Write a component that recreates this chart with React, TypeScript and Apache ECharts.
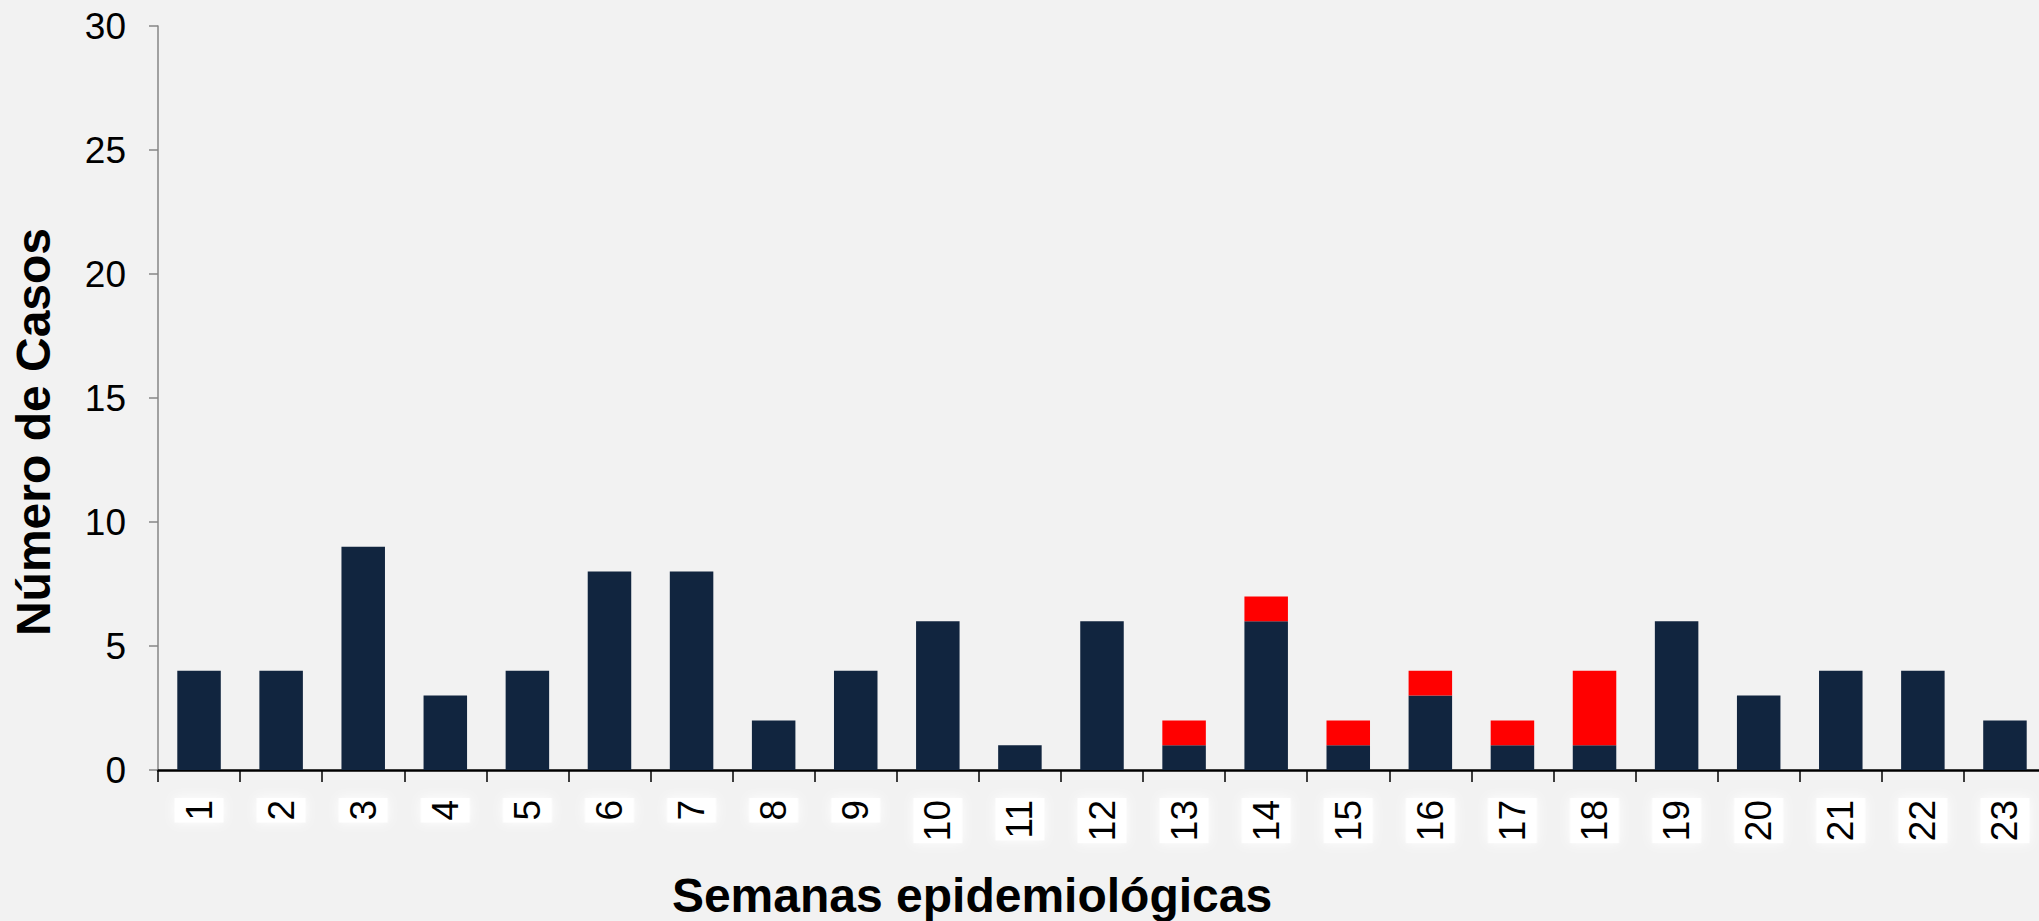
import React, { useEffect, useRef } from "react";
import * as echarts from "echarts";

const weeks = ["1","2","3","4","5","6","7","8","9","10","11","12","13","14","15","16","17","18","19","20","21","22","23"];
const navyValues = [4, 4, 9, 3, 4, 8, 8, 2, 4, 6, 1, 6, 1, 6, 1, 3, 1, 1, 6, 3, 4, 4, 2];
const redValues = [0, 0, 0, 0, 0, 0, 0, 0, 0, 0, 0, 0, 1, 1, 1, 1, 1, 3, 0, 0, 0, 0, 0];
const yTicks = { min: 0, max: 30, interval: 5 };

const FONT = "'Liberation Sans', Arial, sans-serif";

export default function App() {
  const ref = useRef<HTMLDivElement>(null);
  useEffect(() => {
    document.body.style.margin = "0";
    if (!ref.current) return;
    const chart = echarts.init(ref.current, null, { renderer: "svg" });
    chart.setOption({
      animation: false,
      backgroundColor: "#f2f2f2",
      textStyle: { fontFamily: FONT },
      grid: {
        left: 158,
        top: 26,
        bottom: 151,
        right: -7,
        containLabel: false,
        outerBoundsMode: "none",
      },
      xAxis: {
        type: "category",
        data: weeks,
        boundaryGap: true,
        name: "Semanas epidemiológicas",
        nameLocation: "middle",
        nameGap: 101,
        nameTextStyle: {
          fontFamily: FONT,
          fontSize: 48,
          fontWeight: "bold",
          color: "#000",
          padding: [0, 260, 0, 0],
        },
        axisLine: { show: true, lineStyle: { color: "#000", width: 2.5 } },
        axisTick: { show: true, length: 12, lineStyle: { color: "#000", width: 1.5 } },
        axisLabel: {
          rotate: 90,
          margin: 28,
          fontFamily: FONT,
          fontSize: 37,
          color: "#000",
          backgroundColor: "#ffffff",
          lineHeight: 40,
          padding: [5, 2, 4, 2],
          shadowColor: "rgba(255,255,255,1)",
          shadowBlur: 12,
          interval: 0,
        },
        splitLine: { show: false },
      },
      yAxis: {
        type: "value",
        min: yTicks.min,
        max: yTicks.max,
        interval: yTicks.interval,
        name: "Número de Casos",
        nameLocation: "middle",
        nameRotate: 90,
        nameGap: 101,
        nameTextStyle: {
          fontFamily: FONT,
          fontSize: 48,
          fontWeight: "bold",
          color: "#000",
          padding: [0, 68, 0, 0],
        },
        axisLine: { show: true, lineStyle: { color: "#868686", width: 1.5 } },
        axisTick: { show: true, length: 9, lineStyle: { color: "#868686", width: 1.5 } },
        axisLabel: { margin: 32, fontFamily: FONT, fontSize: 37, color: "#000" },
        splitLine: { show: false },
      },
      series: [
        {
          type: "bar",
          stack: "total",
          data: navyValues,
          barWidth: "53%",
          itemStyle: { color: "#11253f" },
        },
        {
          type: "bar",
          stack: "total",
          data: redValues,
          barWidth: "53%",
          itemStyle: { color: "#ff0000" },
        },
      ],
    });
    return () => chart.dispose();
  }, []);
  return <div ref={ref} style={{ width: 2039, height: 921 }} />;
}
